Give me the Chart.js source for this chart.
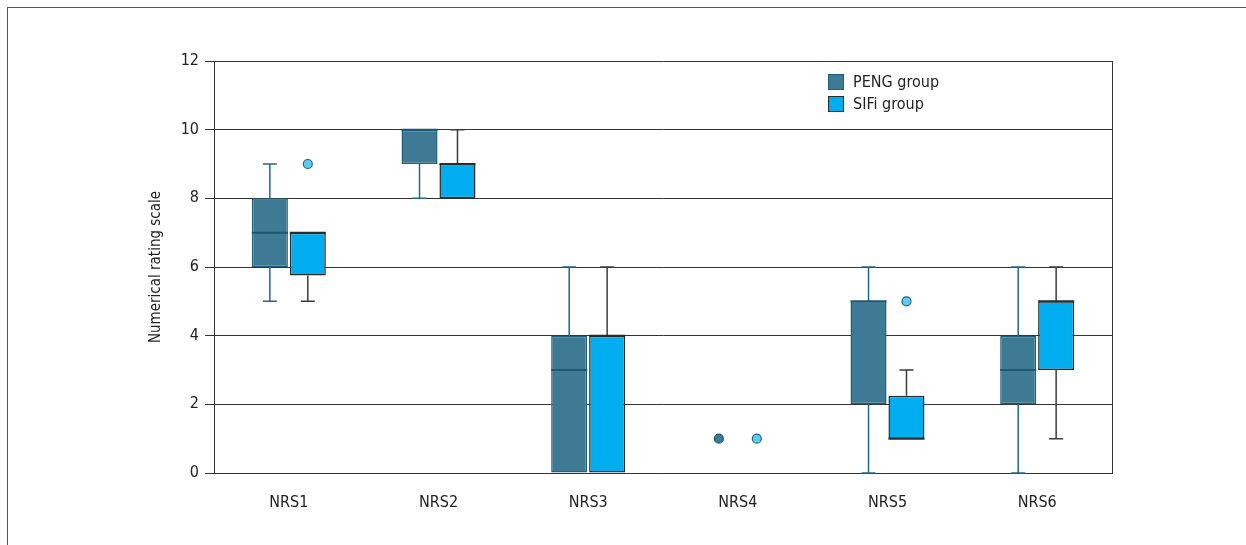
<!DOCTYPE html>
<html>
<head>
<meta charset="utf-8">
<script src="https://cdn.jsdelivr.net/npm/chart.js@4.4.0/dist/chart.umd.min.js"></script>
<style>
  html, body { margin: 0; padding: 0; background: #fff; }
  #wrap { position: relative; width: 1246px; height: 545px; }
  #frame { position: absolute; left: 7px; top: 7px; right: 0; bottom: 0;
           border-top: 1px solid #555; border-left: 1px solid #555; pointer-events: none; }
  canvas { position: absolute; left: 0; top: 0; }
</style>
</head>
<body>
<div id="wrap">
  <canvas id="c" width="1246" height="545"></canvas>
  <div id="frame"></div>
</div>
<script>
// categories and tick values
const categories = ['NRS1', 'NRS2', 'NRS3', 'NRS4', 'NRS5', 'NRS6'];
const yTicks = [0, 2, 4, 6, 8, 10, 12];

// PENG group box stats
const pengMin    = [5, 8, 0, 0, 0, 0];
const pengQ1     = [6, 9, 0, 0, 2, 2];
const pengMedian = [7, 10, 3, 0, 5, 3];
const pengQ3     = [8, 10, 4, 0, 5, 4];
const pengMax    = [9, 10, 6, 0, 6, 6];
const pengOutliers = [[], [], [], [1], [], []];

// SIFi group box stats
const sifiMin    = [5, 8, 0, 0, 1, 1];
const sifiQ1     = [5.75, 8, 0, 0, 1, 3];
const sifiMedian = [7, 9, 4, 0, 1, 5];
const sifiQ3     = [7, 9, 4, 0, 2.25, 5];
const sifiMax    = [7, 10, 6, 0, 3, 6];
const sifiOutliers = [[9], [], [], [1], [5], []];

const FONT = '"Liberation Sans Narrow", "DejaVu Sans Condensed", "Roboto", sans-serif';

const groups = [
  { label: 'PENG group', min: pengMin, q1: pengQ1, med: pengMedian, q3: pengQ3, max: pengMax, out: pengOutliers,
    fill: '#3e7a93', border: '#1f5f7b', whisker: '#1f6a8a', median: '#1d5873',
    outFill: '#3e7a93', outStroke: '#1d5873' },
  { label: 'SIFi group', min: sifiMin, q1: sifiQ1, med: sifiMedian, q3: sifiQ3, max: sifiMax, out: sifiOutliers,
    fill: '#00aeef', border: '#2b2b2b', whisker: '#3c3c3c', median: '#2b2b2b',
    outFill: '#5fcaf2', outStroke: '#1d6584' }
];

const boxPlotExtras = {
  id: 'boxPlotExtras',
  afterDatasetsDraw(chart) {
    const ctx = chart.ctx;
    const y = chart.scales.y;
    const area = chart.chartArea;
    ctx.save();
    groups.forEach((g, d) => {
      const meta = chart.getDatasetMeta(d);
      meta.data.forEach((bar, i) => {
        const x = bar.x;
        const w = bar.width;
        const capW = 14;
        ctx.strokeStyle = g.whisker;
        ctx.lineWidth = 1.5;
        // upper whisker
        if (g.max[i] > g.q3[i]) {
          ctx.beginPath();
          ctx.moveTo(x, y.getPixelForValue(g.q3[i]));
          ctx.lineTo(x, y.getPixelForValue(g.max[i]));
          ctx.moveTo(x - capW / 2, y.getPixelForValue(g.max[i]));
          ctx.lineTo(x + capW / 2, y.getPixelForValue(g.max[i]));
          ctx.stroke();
        }
        // lower whisker
        if (g.min[i] < g.q1[i]) {
          ctx.beginPath();
          ctx.moveTo(x, y.getPixelForValue(g.q1[i]));
          ctx.lineTo(x, y.getPixelForValue(g.min[i]));
          ctx.moveTo(x - capW / 2, y.getPixelForValue(g.min[i]));
          ctx.lineTo(x + capW / 2, y.getPixelForValue(g.min[i]));
          ctx.stroke();
        }
        // median
        if (g.q3[i] > g.q1[i]) {
          ctx.strokeStyle = g.median;
          ctx.lineWidth = 2;
          ctx.beginPath();
          ctx.moveTo(x - w / 2, y.getPixelForValue(g.med[i]));
          ctx.lineTo(x + w / 2, y.getPixelForValue(g.med[i]));
          ctx.stroke();
        }
        // outliers
        g.out[i].forEach(v => {
          ctx.beginPath();
          ctx.arc(x, y.getPixelForValue(v), 4.5, 0, Math.PI * 2);
          ctx.fillStyle = g.outFill;
          ctx.fill();
          ctx.strokeStyle = g.outStroke;
          ctx.lineWidth = 1.2;
          ctx.stroke();
        });
      });
    });
    // right frame of plot area
    ctx.strokeStyle = '#333';
    ctx.lineWidth = 1;
    ctx.beginPath();
    ctx.moveTo(area.right + 0.5, area.top);
    ctx.lineTo(area.right + 0.5, area.bottom);
    ctx.stroke();

    // legend inside plot
    groups.forEach((g, d) => {
      const lx = 828, ly = 74 + d * 22;
      ctx.fillStyle = g.fill;
      ctx.fillRect(lx, ly, 16, 16);
      ctx.strokeStyle = g.border;
      ctx.lineWidth = 1;
      ctx.strokeRect(lx + 0.5, ly + 0.5, 15, 15);
      ctx.fillStyle = '#222';
      ctx.font = '16px ' + FONT;
      ctx.textBaseline = 'middle';
      ctx.textAlign = 'left';
      ctx.fillText(g.label, lx + 25, ly + 9);
    });
    ctx.restore();
  }
};

new Chart(document.getElementById('c'), {
  type: 'bar',
  data: {
    labels: categories,
    datasets: groups.map(g => ({
      label: g.label,
      data: g.q1.map((v, i) => [v, g.q3[i]]),
      backgroundColor: g.fill,
      borderColor: g.border,
      borderWidth: 1.5,
      borderSkipped: false,
      categoryPercentage: 0.507,
      barPercentage: 0.95
    }))
  },
  options: {
    responsive: false,
    animation: false,
    layout: { padding: { left: 143, right: 134, top: 61, bottom: 0 } },
    plugins: { legend: { display: false }, tooltip: { enabled: false } },
    scales: {
      x: {
        grid: { display: false },
        border: { display: true, color: '#333' },
        ticks: { color: '#222', font: { family: FONT, size: 16 }, padding: 12 },
        afterFit(scale) { scale.height = 72; }
      },
      y: {
        min: 0,
        max: 12,
        afterBuildTicks(scale) { scale.ticks = yTicks.map(v => ({ value: v })); },
        grid: { color: '#333', lineWidth: 1, tickLength: 9 },
        border: { display: true, color: '#333' },
        ticks: { color: '#222', font: { family: FONT, size: 16 }, padding: 6 },
        title: { display: true, text: 'Numerical rating scale', color: '#222',
                 font: { family: FONT, size: 15 } },
        afterFit(scale) { scale.width = 71; }
      }
    }
  },
  plugins: [boxPlotExtras]
});
</script>
</body>
</html>
